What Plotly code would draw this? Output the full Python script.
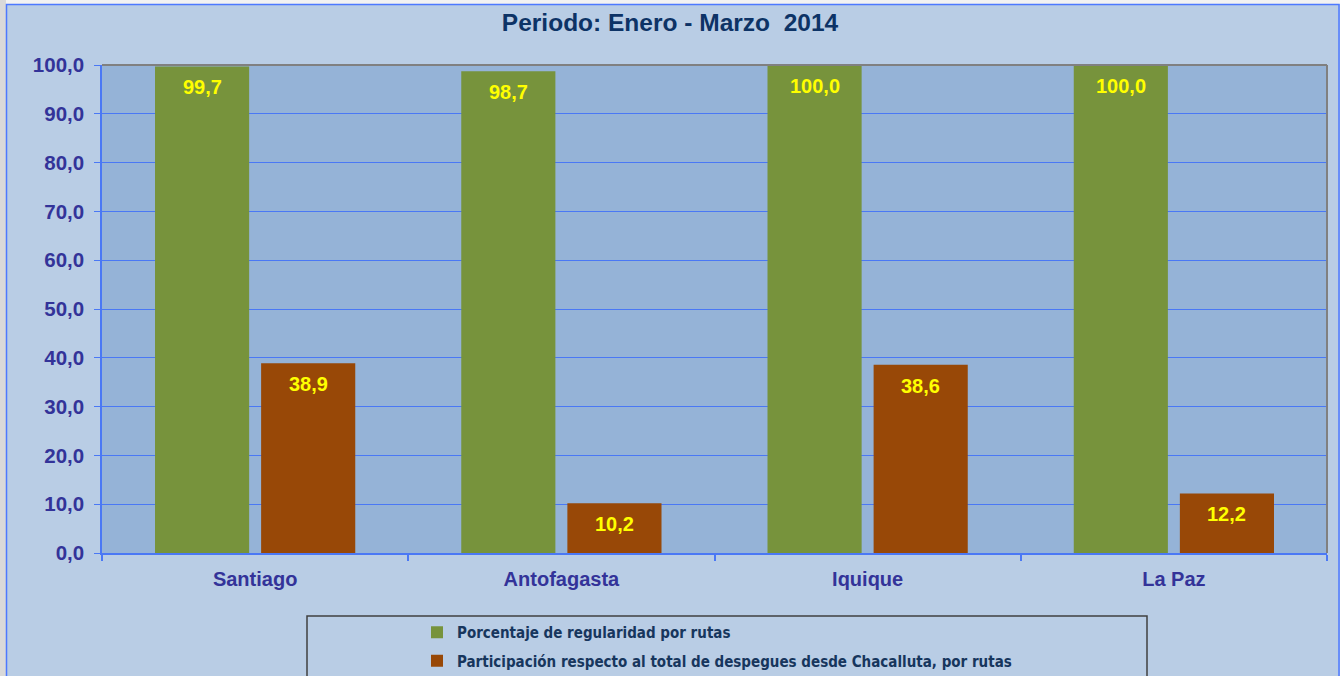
import plotly.graph_objects as go

categories = ["Santiago", "Antofagasta", "Iquique", "La Paz"]
regularidad = [99.7, 98.7, 100.0, 100.0]
participacion = [38.9, 10.2, 38.6, 12.2]
series_names = [
    "Porcentaje de regularidad por rutas",
    "Participación respecto al total de despegues desde Chacalluta, por rutas",
]
y_ticks = [0, 10, 20, 30, 40, 50, 60, 70, 80, 90, 100]
title_text = "Periodo: Enero - Marzo  2014"

W, H = 1340, 676
L, R, T, B = 102, 13, 65, 123
PW, PH = W - L - R, H - T - B

def px2x(p):
    return (p - L) / PW

def py2y(p):
    return (H - B - p) / PH

GREEN = "#77933c"
ORANGE = "#984807"
GRID = "#4a78f5"
TICKC = "#333399"
LABEL_FONT = dict(color="#ffff00", size=20, family="Liberation Sans, Arial", weight="bold")

fig = go.Figure()
fig.add_trace(go.Bar(
    x=categories, y=regularidad, name=series_names[0], legendgroup="a",
    marker=dict(color=GREEN, line=dict(width=0)),
))
fig.add_trace(go.Bar(
    x=categories, y=participacion, name=series_names[1], legendgroup="b",
    marker=dict(color=ORANGE, line=dict(width=0)),
))

annotations = []
for values, shift in ((regularidad, -53), (participacion, 53)):
    for c, v in zip(categories, values):
        annotations.append(dict(
            x=c, y=v, xref="x", yref="y", xshift=shift, yshift=-21,
            text=f"{v:.1f}".replace(".", ","), showarrow=False,
            xanchor="center", yanchor="middle", font=LABEL_FONT,
        ))

shapes = [
    dict(type="rect", xref="paper", yref="paper", x0=px2x(-5), x1=px2x(W + 5), y0=py2y(-5), y1=py2y(4),
         fillcolor="#f2f2f2", line=dict(width=0), layer="below"),
    dict(type="rect", xref="paper", yref="paper", x0=px2x(-5), x1=px2x(6), y0=py2y(-5), y1=py2y(H + 5),
         fillcolor="#d9d9d9", line=dict(width=0), layer="below"),
    dict(type="rect", xref="paper", yref="paper", x0=px2x(6.5), x1=px2x(1339), y0=py2y(4.5), y1=py2y(H + 5),
         fillcolor="rgba(0,0,0,0)", line=dict(color="#4d79ff", width=1.5), layer="below"),
    dict(type="line", xref="paper", yref="paper", x0=0, x1=1, y0=1, y1=1,
         line=dict(color="#808080", width=2)),
    dict(type="line", xref="paper", yref="paper", x0=1, x1=1, y0=0, y1=1,
         line=dict(color="#808080", width=2)),
    dict(type="rect", xref="paper", yref="paper", x0=px2x(307), x1=px2x(1147), y0=py2y(616), y1=py2y(H + 5),
         fillcolor="rgba(0,0,0,0)", line=dict(color="#404040", width=1.5)),
]

fig.update_layout(
    width=W, height=H,
    margin=dict(l=L, r=R, t=T, b=B, autoexpand=False),
    paper_bgcolor="#b9cde5",
    plot_bgcolor="#95b3d7",
    separators=",.",
    barmode="group",
    bargap=0.307,
    bargroupgap=0.113,
    title=dict(text=title_text, x=0.5, xref="container", xanchor="center",
               y=1 - 22 / H, yref="container", yanchor="middle",
               font=dict(family="Liberation Sans, Arial", size=24.5, color="#0d3366", weight="bold")),
    font=dict(family="Liberation Sans, Arial"),
    showlegend=True,
    legend=dict(x=px2x(417), y=py2y(616), xanchor="left", yanchor="top",
                bgcolor="rgba(0,0,0,0)", borderwidth=0,
                tracegroupgap=6, traceorder="grouped",
                font=dict(family="DejaVu Sans Condensed, Liberation Sans Narrow, Liberation Sans", size=15,
                          color="#17365d", weight="bold"),
                itemwidth=30),
    shapes=shapes,
    annotations=annotations,
    xaxis=dict(
        showgrid=False, showline=True, linecolor=GRID, linewidth=1.5,
        ticks="outside", tickson="boundaries", ticklen=6, tickcolor=GRID, tickwidth=2,
        ticklabelstandoff=7,
        tickfont=dict(size=20, color=TICKC, weight="bold"),
    ),
    yaxis=dict(
        range=[0, 100], tickvals=y_ticks, tickformat=".1f",
        showgrid=True, gridcolor=GRID, gridwidth=1,
        showline=True, linecolor=GRID, linewidth=1.5,
        ticks="outside", ticklen=6, tickcolor=GRID,
        ticklabelstandoff=6,
        zeroline=False,
        tickfont=dict(size=20.5, color=TICKC, weight="bold"),
    ),
)

fig.write_html("out.html", config={"displayModeBar": False},
               post_script="document.body.style.margin='0px';")
